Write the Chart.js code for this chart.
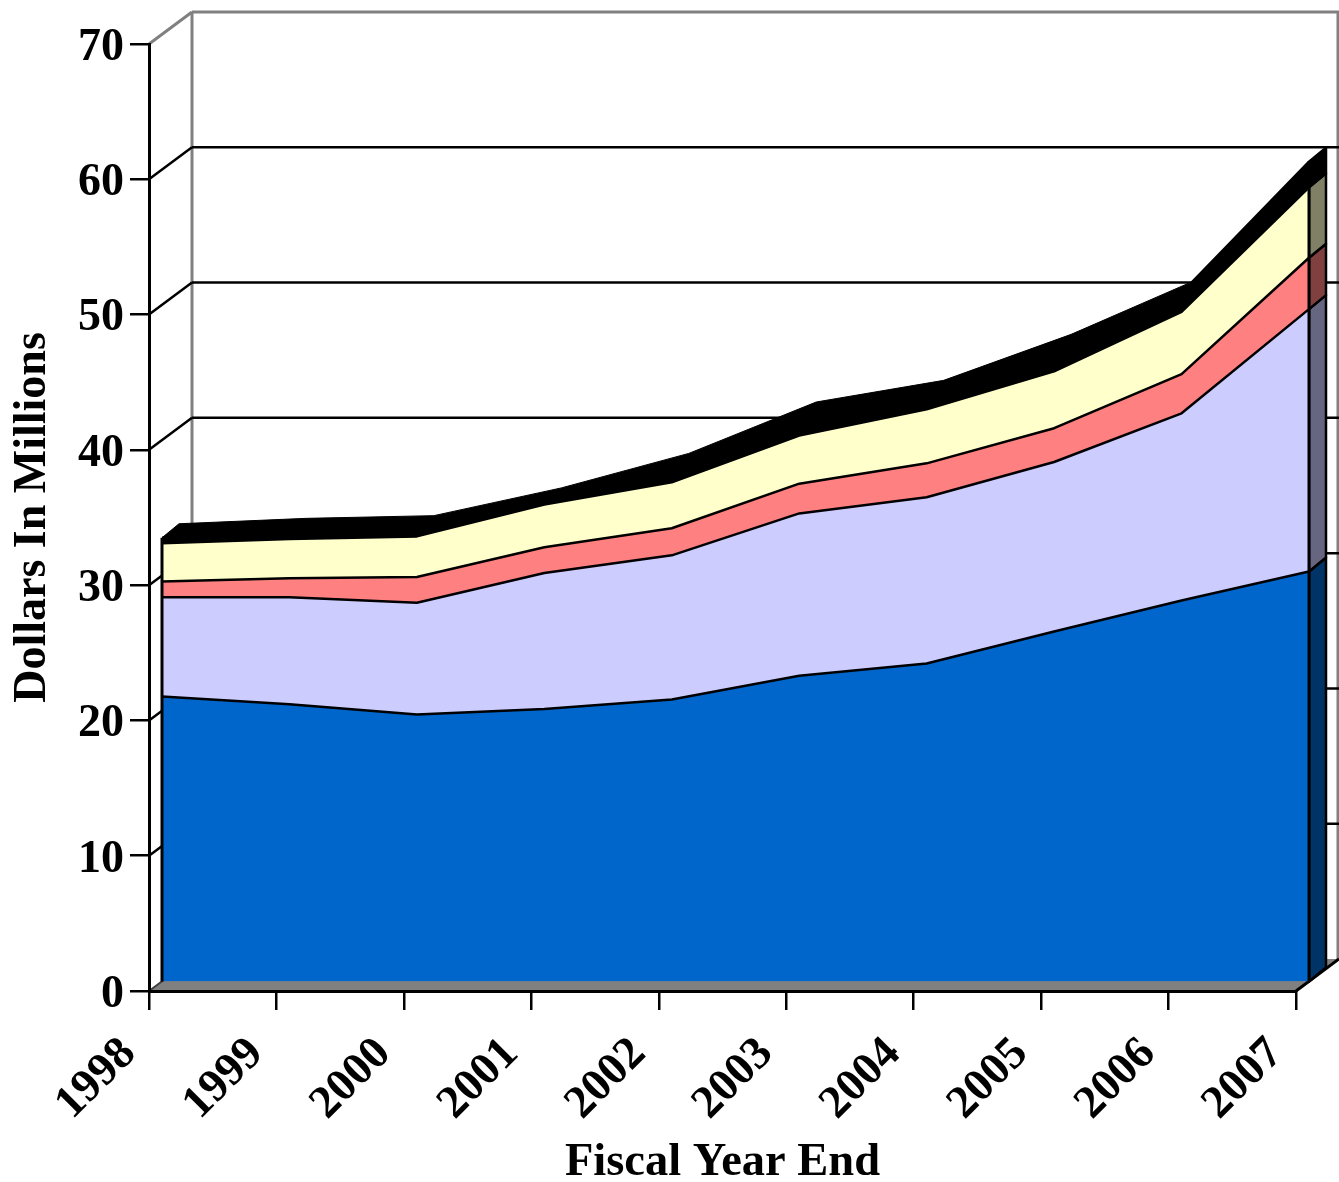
<!DOCTYPE html>
<html><head><meta charset="utf-8">
<script src="https://cdn.jsdelivr.net/npm/chart.js@4"></script>
<style>html,body{margin:0;padding:0;background:#fff;overflow:hidden}canvas{display:block}</style>
</head><body><canvas id="c" width="1339" height="1182"></canvas>
<script>
const years = ['1998','1999','2000','2001','2002','2003','2004','2005','2006','2007'];
const seriesA = [21.06,20.5,19.73,20.14,20.84,22.6,23.5,25.87,28.16,30.3];
const seriesB = [7.34,7.9,8.27,10.06,10.66,12.0,12.3,12.53,13.84,19.4];
const seriesC = [1.16,1.4,1.9,1.9,2.0,2.2,2.5,2.5,2.9,3.8];
const seriesD = [2.84,2.9,3.0,3.15,3.4,3.55,4.0,4.2,4.6,5.2];
const seriesE = [0.4,0.5,0.5,0.2,1.1,1.45,1.1,1.7,1.4,1.9];
const fills = ['#0066CC','#CCCCFF','#FF8080','#FFFFCC','#000000'];
const sides = ['#003366','#666680','#804040','#808066','#000000'];

const WALL = {dx:43, dy:-32};
const FRONT = {dx:13, dy:-9.5};
const DEPTH = {dx:17, dy:-14};
const SERIF = '"Liberation Serif","Times New Roman",serif';
const LABEL_SHIFT = {x:{dx:-20,dy:15}, y:{dx:-2,dy:4}};

function poly(ctx, pts, fill, stroke, lw){
  ctx.beginPath();
  pts.forEach((p,i)=> i ? ctx.lineTo(p[0],p[1]) : ctx.moveTo(p[0],p[1]));
  ctx.closePath();
  if(fill){ctx.fillStyle=fill;ctx.fill();}
  if(stroke){ctx.strokeStyle=stroke;ctx.lineWidth=lw||2;ctx.stroke();}
}
function seg(ctx,x0,y0,x1,y1,color,lw){
  ctx.beginPath();ctx.moveTo(x0,y0);ctx.lineTo(x1,y1);
  ctx.strokeStyle=color;ctx.lineWidth=lw||2;ctx.stroke();
}
function shiftLabels(scale,shift){
  if(scale._shifted) return;
  scale._shifted=true;
  const orig=scale.drawLabels;
  scale.drawLabels=function(area){
    const c=this.ctx;c.save();c.translate(shift.dx,shift.dy);orig.call(this,area);c.restore();
  };
}

const box3d = {
  id:'box3d',
  beforeDraw(chart){
    const {ctx,chartArea:a,scales:{x,y}} = chart;
    shiftLabels(x,LABEL_SHIFT.x);
    shiftLabels(y,LABEL_SHIFT.y);
    ctx.save();
    ctx.fillStyle='#fff';ctx.fillRect(0,0,chart.width,chart.height);
    const wx=a.left+WALL.dx, rx=a.right+WALL.dx, by=y.getPixelForValue(0);
    // floor
    poly(ctx,[[a.left,by],[wx,by+WALL.dy],[rx,by+WALL.dy],[a.right,by]],'#808080');
    // walls
    const ty=y.getPixelForValue(70);
    seg(ctx,wx,by+WALL.dy,wx,ty+WALL.dy,'#808080',3);
    seg(ctx,rx-1,by+WALL.dy,rx-1,ty+WALL.dy,'#808080',3);
    seg(ctx,wx,ty+WALL.dy,rx,ty+WALL.dy,'#808080',3);
    seg(ctx,a.left,ty,wx,ty+WALL.dy,'#808080',3);
    // back grid lines and side-wall diagonals
    y.ticks.forEach(t=>{
      if(t.value===0||t.value===70) return;
      const p=y.getPixelForValue(t.value);
      seg(ctx,a.left,p,wx,p+WALL.dy,'#000',2.5);
      seg(ctx,wx,p+WALL.dy,rx,p+WALL.dy,'#000',2.5);
    });
    seg(ctx,a.right,by,rx,by+WALL.dy,'#000',3);
    seg(ctx,a.left,by,wx,by+WALL.dy,'#404040',2);
    ctx.restore();
  },
  beforeDatasetsDraw(chart){
    const {ctx,scales:{y}} = chart;
    ctx.save();
    ctx.translate(FRONT.dx,FRONT.dy);
    ctx.lineJoin='round';
    const metas=chart.getSortedVisibleDatasetMetas();
    // right-hand side faces
    metas.forEach((m,i)=>{
      const p=m.data[m.data.length-1];
      const base=i?metas[i-1].data[m.data.length-1].y:y.getPixelForValue(0);
      poly(ctx,[[p.x,base],[p.x+DEPTH.dx,base+DEPTH.dy],[p.x+DEPTH.dx,p.y+DEPTH.dy],[p.x,p.y]],sides[i],'#000',2.5);
    });
    // top face of the highest series
    const top=metas[metas.length-1].data;
    const pts=top.map(p=>[p.x,p.y]).concat(top.slice().reverse().map(p=>[p.x+DEPTH.dx,p.y+DEPTH.dy]));
    poly(ctx,pts,'#000','#000',1);
  },
  afterDatasetsDraw(chart){
    const {ctx,scales:{y}} = chart;
    const metas=chart.getSortedVisibleDatasetMetas();
    const top=metas[metas.length-1].data;
    const base=y.getPixelForValue(0);
    [top[0],top[top.length-1]].forEach(p=>seg(ctx,p.x,base,p.x,p.y,'#000',3));
    ctx.restore();
  }
};

const makeDs=(data,i)=>({label:'s'+i,data,fill:i?'-1':'origin',backgroundColor:fills[i],borderColor:'#000',borderWidth:2.5,
  pointRadius:0,tension:0,clip:false,borderJoinStyle:'round'});

new Chart(document.getElementById('c'),{
  type:'line',
  data:{labels:years,datasets:[seriesA,seriesB,seriesC,seriesD,seriesE].map(makeDs)},
  plugins:[box3d],
  options:{
    responsive:false,animation:false,devicePixelRatio:1,
    layout:{padding:{top:44,right:43,left:0,bottom:0}},
    plugins:{legend:{display:false},tooltip:{enabled:false},title:{display:false}},
    scales:{
      x:{
        offset:false,
        afterFit(s){s.height=191;},
        grid:{display:true,drawOnChartArea:false,drawTicks:true,tickLength:19,color:'#000',lineWidth:2.5},
        border:{display:true,color:'#000',width:3},
        ticks:{color:'#000',font:{family:SERIF,weight:'bold',size:46},minRotation:45,maxRotation:45,padding:2,autoSkip:false},
        title:{display:true,text:'Fiscal Year End',color:'#000',font:{family:SERIF,weight:'bold',size:46.5},padding:{top:0,bottom:-9}}
      },
      y:{
        stacked:true,min:0,max:70,
        afterFit(s){s.width=149;},
        grid:{display:true,drawOnChartArea:false,drawTicks:true,tickLength:19,color:'#000',lineWidth:2.5},
        border:{display:true,color:'#000',width:3},
        ticks:{stepSize:10,color:'#000',font:{family:SERIF,weight:'bold',size:46},padding:4},
        title:{display:true,text:'Dollars In Millions',color:'#000',font:{family:SERIF,weight:'bold',size:46},padding:{top:6,bottom:0}}
      }
    }
  }
});
</script></body></html>
